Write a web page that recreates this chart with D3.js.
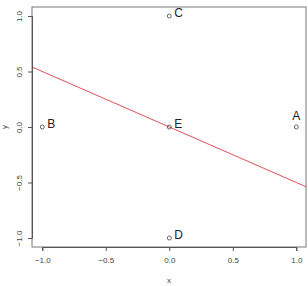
<!DOCTYPE html>
<html lang="en">
<head>
<meta charset="UTF-8">
<script src="https://d3js.org/d3.v7.min.js"></script>
<style>
  body { margin: 0; background: #fff; }
  text { font-family: "Liberation Sans", sans-serif; }
</style>
</head>
<body>
<svg width="308" height="286"></svg>
<script>
// points and their labels
const names = ["A", "B", "C", "D", "E"];
const xs = [1, -1, 0, 0, 0];
const ys = [0, 0, 1, -1, 0];
const labelPos = ["top", "right", "right", "right", "right"];
// fitted line y = a + b*x
const lineA = 0;
const lineB = -0.5;
const xTicks = [-1.0, -0.5, 0.0, 0.5, 1.0];
const yTicks = [-1.0, -0.5, 0.0, 0.5, 1.0];

const svg = d3.select("svg");
const box = { left: 32, top: 7, right: 306, bottom: 247 };

const x = d3.scaleLinear().domain([-1, 1]).range([42.3, 296.3]);
const y = d3.scaleLinear().domain([-1, 1]).range([238, 16]);

// regression line clipped to the box
svg.append("clipPath").attr("id", "clip")
  .append("rect")
  .attr("x", box.left).attr("y", box.top)
  .attr("width", box.right - box.left).attr("height", box.bottom - box.top);

const x0 = x.invert(box.left), x1 = x.invert(box.right);
svg.append("line")
  .attr("clip-path", "url(#clip)")
  .attr("x1", x(x0)).attr("y1", y(lineA + lineB * x0))
  .attr("x2", x(x1)).attr("y2", y(lineA + lineB * x1))
  .attr("stroke", "#e0505a").attr("stroke-width", 1);

// box
svg.append("rect")
  .attr("x", box.left).attr("y", box.top)
  .attr("width", box.right - box.left).attr("height", box.bottom - box.top)
  .attr("fill", "none").attr("stroke", "#777").attr("stroke-width", 1);

// x axis
const xAxis = d3.axisBottom(x).tickValues(xTicks).tickSize(4).tickPadding(6)
  .tickFormat(d3.format(".1f"));
const gx = svg.append("g").attr("transform", `translate(0,${box.bottom})`).call(xAxis);
gx.select(".domain").attr("stroke", "#555");
gx.selectAll(".tick line").attr("stroke", "#555");
gx.selectAll("text").attr("font-size", 8).attr("fill", "#444")
  .attr("font-family", "Liberation Sans, sans-serif");

// y axis
const yAxis = d3.axisLeft(y).tickValues(yTicks).tickSize(4).tickPadding(6)
  .tickFormat(d3.format(".1f"));
const gy = svg.append("g").attr("transform", `translate(${box.left},0)`).call(yAxis);
gy.select(".domain").attr("stroke", "#555");
gy.selectAll(".tick line").attr("stroke", "#555");
gy.selectAll("text").attr("font-size", 8).attr("fill", "#444")
  .attr("font-family", "Liberation Sans, sans-serif")
  .attr("text-anchor", "middle")
  .attr("transform", "rotate(-90)")
  .attr("x", 0).attr("y", -13).attr("dy", "0.32em");

// axis titles
svg.append("text").attr("x", (box.left + box.right) / 2).attr("y", 283)
  .attr("text-anchor", "middle").attr("font-size", 8).attr("fill", "#444").text("x");
svg.append("text")
  .attr("transform", `translate(7,${(box.top + box.bottom) / 2}) rotate(-90)`)
  .attr("text-anchor", "middle").attr("font-size", 8).attr("fill", "#444").text("y");

// points
const pts = names.map((n, i) => ({ name: n, x: xs[i], y: ys[i], pos: labelPos[i] }));
svg.append("g").selectAll("circle").data(pts).join("circle")
  .attr("cx", d => x(d.x)).attr("cy", d => y(d.y)).attr("r", 2)
  .attr("fill", "none").attr("stroke", "#444").attr("stroke-width", 0.8);

svg.append("g").selectAll("text").data(pts).join("text")
  .attr("x", d => d.pos === "top" ? x(d.x) : x(d.x) + 5)
  .attr("y", d => d.pos === "top" ? y(d.y) - 7 : y(d.y) - 3)
  .attr("dy", d => d.pos === "top" ? 0 : "0.35em")
  .attr("text-anchor", d => d.pos === "top" ? "middle" : "start")
  .attr("font-family", "DejaVu Sans, sans-serif")
  .attr("font-size", 12).attr("fill", "#222")
  .text(d => d.name);
</script>
</body>
</html>
